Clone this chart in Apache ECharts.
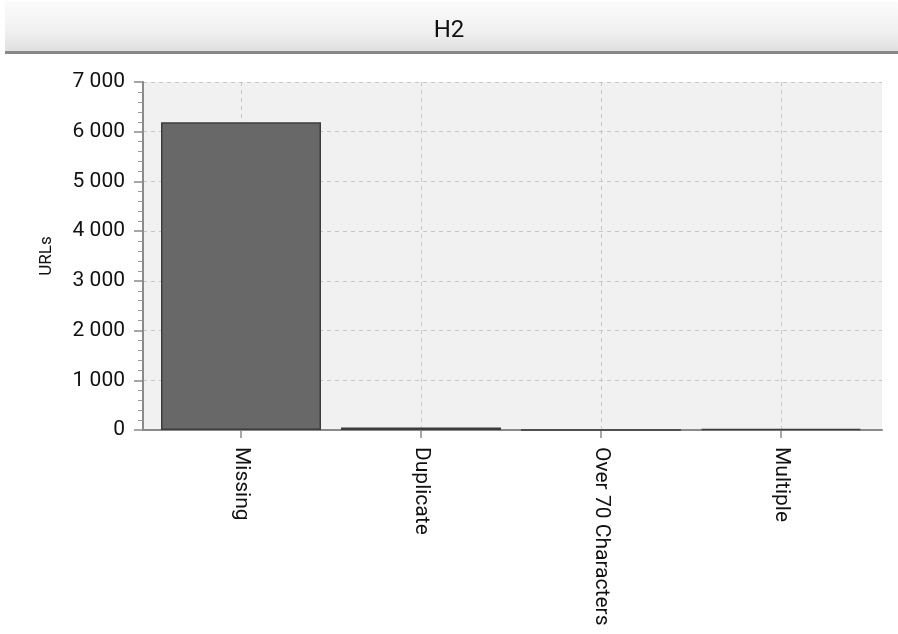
<!DOCTYPE html>
<html>
<head>
<meta charset="utf-8">
<script src="https://cdn.jsdelivr.net/npm/echarts@6/dist/echarts.min.js"></script>
<style>
html,body{margin:0;padding:0;background:#fff;}
#chart{width:898px;height:634px;}
</style>
</head>
<body>
<div id="chart"></div>
<script>
var chartTitle = 'H2';
var categories = ['Missing', 'Duplicate', 'Over 70 Characters', 'Multiple'];
var urlCounts = [6190, 50, 0, 25];
var yTickValues = [0, 1000, 2000, 3000, 4000, 5000, 6000, 7000];
var yAxisName = 'URLs';

var FONT = 'Roboto';
function fmt(v) {
  return String(v).replace(/\B(?=(\d{3})+(?!\d))/g, ' ');
}

var chart = echarts.init(document.getElementById('chart'), null, {renderer: 'canvas'});
chart.setOption({
  backgroundColor: '#ffffff',
  animation: false,
  graphic: [
    {
      type: 'rect', left: 5, top: 2, z: -10,
      shape: {width: 893, height: 49},
      style: {
        fill: new echarts.graphic.LinearGradient(0, 0, 0, 1, [
          {offset: 0, color: '#fbfbfb'},
          {offset: 0.6, color: '#f0f0f0'},
          {offset: 1, color: '#e0e0e0'}
        ])
      }
    },
    {
      type: 'rect', left: 5, top: 51, z: -9,
      shape: {width: 893, height: 3},
      style: {fill: '#888888'}
    }
  ],
  title: {
    text: chartTitle,
    left: 'center',
    top: 14,
    textStyle: {fontFamily: FONT, fontSize: 24, fontWeight: 'normal', color: '#111111'}
  },
  grid: [
    {left: 143, right: 16, top: 82, bottom: 204, show: true, backgroundColor: '#f1f1f1', borderWidth: 0},
    {left: 241, right: 117, top: 82, bottom: 204}
  ],
  xAxis: [
    {
      type: 'value', gridIndex: 0, min: 0, max: 1,
      axisLine: {show: true, lineStyle: {color: '#8a8a8a', width: 2}},
      axisTick: {show: false}, axisLabel: {show: false}, splitLine: {show: false}
    },
    {
      type: 'category', gridIndex: 1, data: categories, boundaryGap: false,
      axisLine: {show: false},
      axisTick: {show: true, length: 8, lineStyle: {color: '#8a8a8a', width: 1.5}},
      axisLabel: {rotate: -90, margin: 17, fontFamily: FONT, fontSize: 21, color: '#111111', interval: 0},
      splitLine: {show: true, lineStyle: {color: '#c8c8c8', type: [4, 4], width: 1}}
    }
  ],
  yAxis: [
    {
      type: 'value', gridIndex: 0, min: 0, max: 7000, interval: 1000,
      name: yAxisName, nameLocation: 'middle', nameGap: 88,
      nameTextStyle: {fontFamily: FONT, fontSize: 17, color: '#111111'},
      axisLine: {show: true, lineStyle: {color: '#8a8a8a', width: 2}},
      axisTick: {show: true, length: 9, lineStyle: {color: '#8a8a8a', width: 1.5}},
      minorTick: {show: true, splitNumber: 5, length: 5, lineStyle: {color: '#9a9a9a', width: 1}},
      axisLabel: {
        margin: 18, fontFamily: FONT, fontSize: 21, color: '#111111',
        formatter: function (v) { return fmt(v); }
      },
      splitLine: {show: true, lineStyle: {color: '#c8c8c8', type: [4, 4], width: 1}}
    },
    {
      type: 'value', gridIndex: 1, min: 0, max: 7000, interval: 1000, show: false,
      splitLine: {show: false}
    }
  ],
  series: [
    {
      type: 'bar', xAxisIndex: 1, yAxisIndex: 1,
      data: urlCounts, barWidth: 160, clip: false,
      itemStyle: {color: '#686868', borderColor: '#3c3c3c', borderWidth: 1.5}
    }
  ]
});
</script>
</body>
</html>
